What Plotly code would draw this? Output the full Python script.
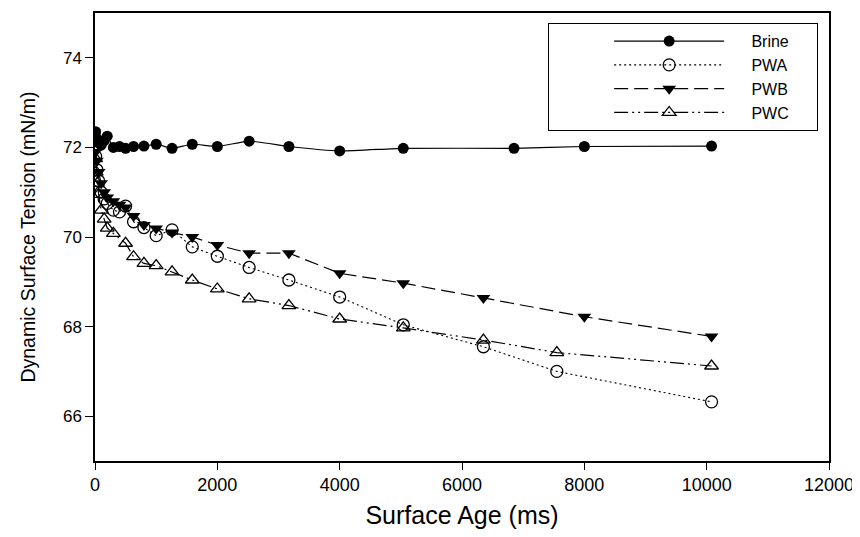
import plotly.graph_objects as go

# ---------------- data ----------------
brine_t = [10, 30, 60, 100, 150, 200, 300, 400, 500, 630, 800, 1000, 1260, 1590,
           2000, 2520, 3170, 4000, 5040, 6850, 8000, 10080]
brine_y = [72.35, 72.2, 72.1, 72.05, 72.15, 72.25, 72.0, 72.02, 71.98, 72.02, 72.03,
           72.07, 71.98, 72.07, 72.02, 72.14, 72.02, 71.92, 71.98, 71.98, 72.02, 72.03]

pwa_t = [10, 30, 60, 100, 150, 200, 300, 400, 500, 630, 800, 1000, 1260, 1590,
         2000, 2520, 3170, 4000, 5040, 6350, 7550, 10080]
pwa_y = [71.8, 71.5, 71.25, 71.0, 70.85, 70.75, 70.6, 70.56, 70.69, 70.34, 70.21,
         70.03, 70.16, 69.78, 69.57, 69.32, 69.04, 68.66, 68.04, 67.55, 67.0, 66.32]

pwb_t = [10, 30, 60, 100, 150, 200, 300, 400, 500, 630, 800, 1000, 1260, 1590,
         2000, 2520, 3170, 4000, 5040, 6350, 8000, 10080]
pwb_y = [71.9, 71.7, 71.45, 71.2, 71.0, 70.88, 70.8, 70.72, 70.66, 70.47, 70.27,
         70.19, 70.1, 70.0, 69.82, 69.64, 69.64, 69.19, 68.97, 68.64, 68.22, 67.78]

pwc_t = [10, 20, 40, 60, 100, 150, 200, 300, 500, 630, 800, 1000, 1260, 1590,
         2000, 2520, 3170, 4000, 5040, 6350, 7550, 10080]
pwc_y = [71.75, 71.45, 71.2, 70.95, 70.6, 70.4, 70.2, 70.08, 69.86, 69.56, 69.41,
         69.36, 69.22, 69.04, 68.84, 68.62, 68.47, 68.17, 67.97, 67.70, 67.42, 67.12]

series_names = ["Brine", "PWA", "PWB", "PWC"]
x_ticks = [0, 2000, 4000, 6000, 8000, 10000, 12000]
y_ticks = [66, 68, 70, 72, 74]

FONT = "Arial, 'Liberation Sans', sans-serif"
PAD = "\u00a0" * 5
TAIL = "\u00a0" * 5

fig = go.Figure()
fig.add_trace(go.Scatter(
    x=brine_t, y=brine_y, name=PAD + series_names[0] + TAIL, mode="lines+markers",
    line=dict(color="black", width=1.2, shape="spline", smoothing=0.5),
    marker=dict(symbol="circle", size=11, color="black")))
fig.add_trace(go.Scatter(
    x=pwa_t, y=pwa_y, name=PAD + series_names[1], mode="lines+markers",
    line=dict(color="black", width=1.1, dash="2px,3px"),
    marker=dict(symbol="circle-open", size=12, color="black", line=dict(width=1.3))))
fig.add_trace(go.Scatter(
    x=pwb_t, y=pwb_y, name=PAD + series_names[2], mode="lines+markers",
    line=dict(color="black", width=1.2, dash="14px,6px"),
    marker=dict(symbol="triangle-down", size=12, color="black")))
fig.add_trace(go.Scatter(
    x=pwc_t, y=pwc_y, name=PAD + series_names[3], mode="lines+markers",
    line=dict(color="black", width=1.2, dash="14px,4px,2px,4px,2px,4px"),
    marker=dict(symbol="triangle-up-open", size=12, color="black", line=dict(width=1.3))))

# the page body has an 8px margin: the figure is shifted by 8px right and down
fig.update_layout(
    width=852, height=529,
    margin=dict(l=87, r=31, t=5, b=76, autoexpand=False),
    paper_bgcolor="white", plot_bgcolor="white",
    font=dict(family=FONT, color="black", size=16),
    showlegend=True,
    legend=dict(
        x=0.617, y=0.978, xanchor="left", yanchor="top",
        bordercolor="black", borderwidth=1.3, bgcolor="white",
        font=dict(size=16, family=FONT), itemwidth=110, indentation=60,
        tracegroupgap=0, traceorder="normal"),
    xaxis=dict(
        range=[0, 12000], tickvals=x_ticks, ticktext=[str(v) for v in x_ticks],
        showgrid=False, zeroline=False, showline=True, linecolor="black", linewidth=1.5,
        mirror=True, ticks="outside", ticklen=7, tickwidth=1.3, tickcolor="black",
        tickfont=dict(size=18), automargin=False,
        title=dict(text="Surface Age (ms)", font=dict(size=25), standoff=12)),
    yaxis=dict(
        range=[65, 75], tickvals=y_ticks, ticktext=[str(v) for v in y_ticks],
        showgrid=False, zeroline=False, showline=True, linecolor="black", linewidth=1.5,
        mirror=True, ticks="outside", ticklen=8, tickwidth=1.3, tickcolor="black",
        tickfont=dict(size=17), automargin=False,
        title=dict(text="Dynamic Surface Tension (mN/m)", font=dict(size=19.5), standoff=22)),
)

fig.write_html("out.html")
